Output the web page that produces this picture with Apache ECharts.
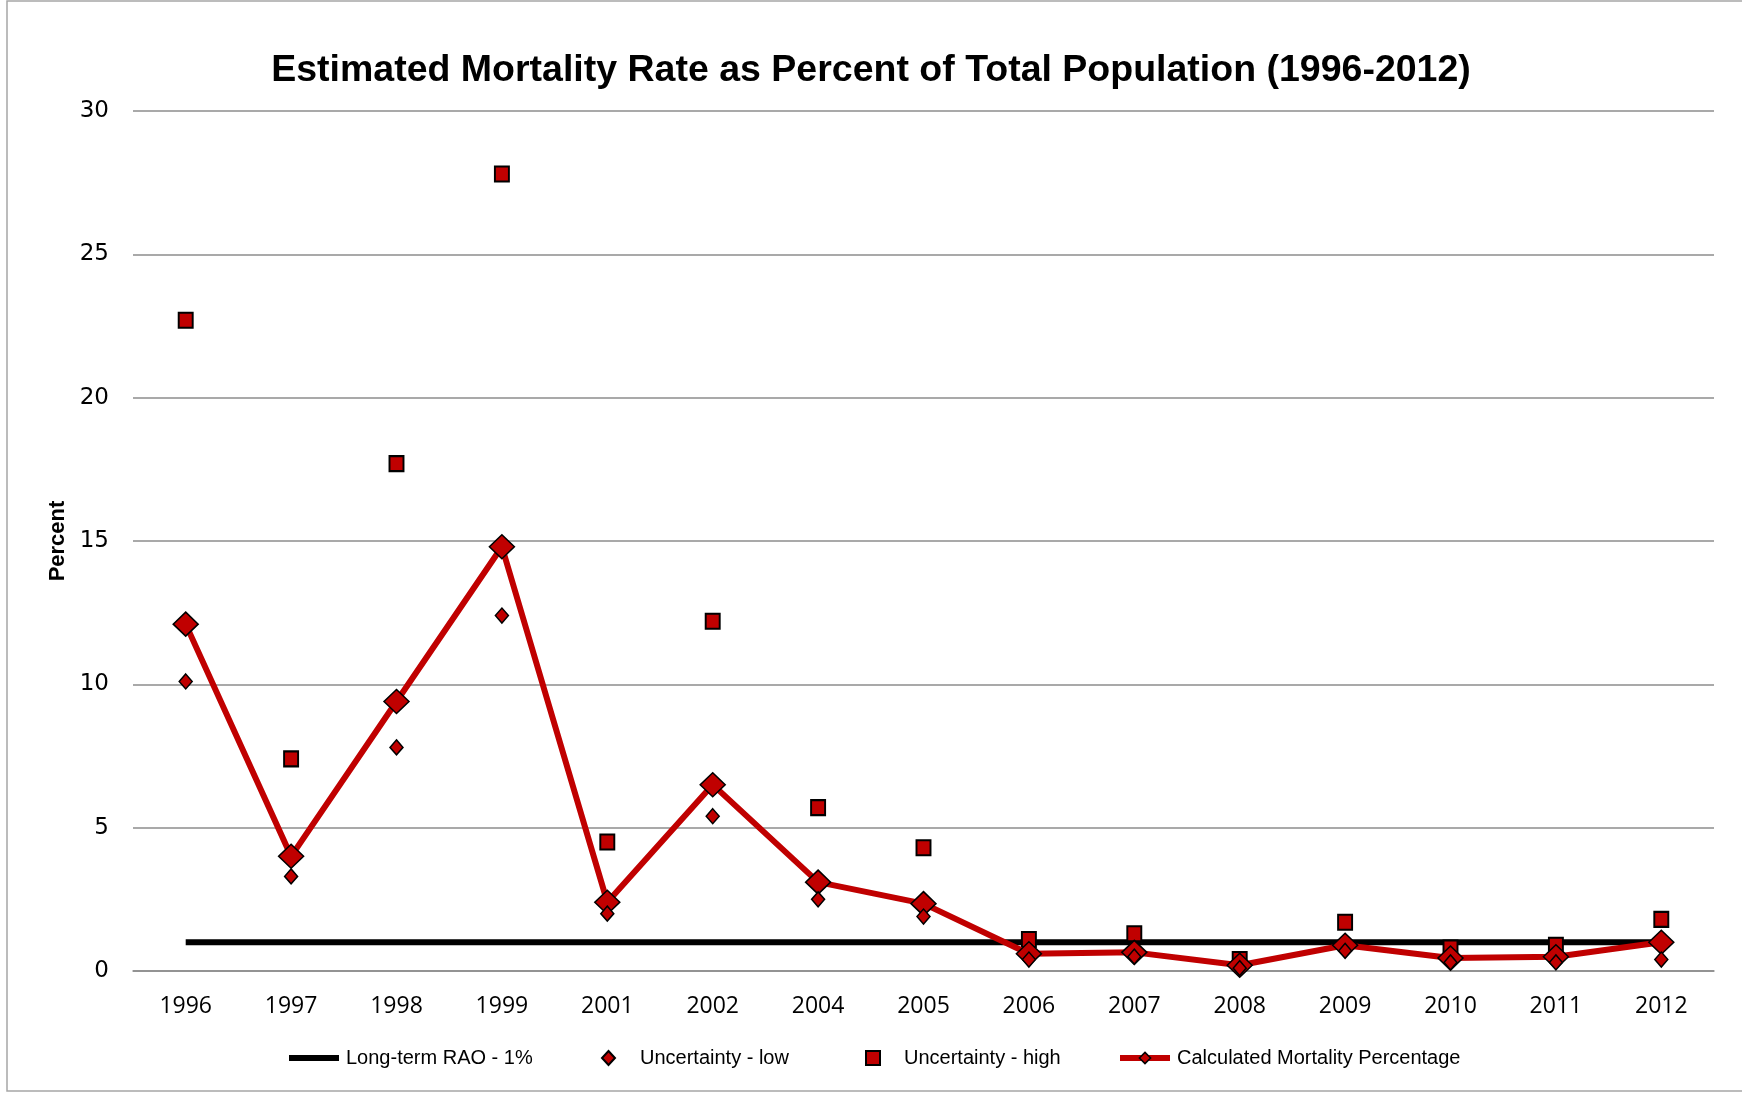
<!DOCTYPE html>
<html>
<head>
<meta charset="utf-8">
<title>Estimated Mortality Rate</title>
<script src="https://cdn.jsdelivr.net/npm/echarts@6/dist/echarts.min.js"></script>
<style>
  html, body { margin: 0; padding: 0; background: #fff; }
  #chart { width: 1742px; height: 1093px; }
</style>
</head>
<body>
<div id="chart"></div>
<script>
// 数据
const years = ['1996', '1997', '1998', '1999', '2001', '2002', '2004', '2005',
  '2006', '2007', '2008', '2009', '2010', '2011', '2012']
const raoLine = [1, 1, 1, 1, 1, 1, 1, 1, 1, 1, 1, 1, 1, 1, 1]
const uncertaintyLow = [10.1, 3.3, 7.8, 12.4, 2.0, 5.4, 2.5, 1.9, 0.4, 0.5, 0.1, 0.7, 0.3, 0.3, 0.4]
const uncertaintyHigh = [22.7, 7.4, 17.7, 27.8, 4.5, 12.2, 5.7, 4.3, 1.1, 1.3, 0.4, 1.7, 0.8, 0.9, 1.8]
const calculated = [12.1, 4.0, 9.4, 14.8, 2.4, 6.5, 3.1, 2.35, 0.6, 0.65, 0.2, 0.9, 0.45, 0.5, 1.0]

const RED = '#C00000'
const GRID_GRAY = '#8c8c8c'
const SANS = '"Liberation Sans", sans-serif'

const chart = echarts.init(document.getElementById('chart'), null, { renderer: 'canvas' })

// 图例：每项单独放置
const legendBase = {
  top: 1048,
  padding: 0,
  itemWidth: 50,
  itemHeight: 14,
  textStyle: { fontFamily: SANS, fontSize: 20, color: '#000' }
}

chart.setOption({
  animation: false,
  graphic: [{
    type: 'rect',
    shape: { x: 7, y: 1, width: 1740, height: 1090 },
    style: { fill: 'none', stroke: '#a6a6a6', lineWidth: 1.5 },
    silent: true
  }],
  title: {
    text: 'Estimated Mortality Rate as Percent of Total Population (1996-2012)',
    left: 'center',
    top: 47,
    textStyle: { fontFamily: SANS, fontWeight: 'bold', fontSize: 37.5, color: '#000' }
  },
  legend: [
    Object.assign({}, legendBase, {
      left: 289, itemHeight: 6,
      textStyle: Object.assign({}, legendBase.textStyle, { padding: [0, 0, 0, 2] }),
      data: [{ name: 'Long-term RAO - 1%', icon: 'rect', itemStyle: { color: '#000' } }]
    }),
    Object.assign({}, legendBase, {
      left: 601, itemWidth: 13,
      textStyle: Object.assign({}, legendBase.textStyle, { padding: [0, 0, 0, 20] }),
      data: ['Uncertainty - low']
    }),
    Object.assign({}, legendBase, {
      left: 865, itemWidth: 14,
      textStyle: Object.assign({}, legendBase.textStyle, { padding: [0, 0, 0, 19] }),
      data: ['Uncertainty - high']
    }),
    Object.assign({}, legendBase, {
      left: 1117,
      textStyle: Object.assign({}, legendBase.textStyle, { padding: [0, 0, 0, 2] }),
      data: [{
        name: 'Calculated Mortality Percentage',
        lineStyle: { width: 6, color: RED },
        itemStyle: { color: RED, borderColor: '#000', borderWidth: 1.5 }
      }]
    })
  ],
  grid: { left: 133, right: 28, top: 111, bottom: 122 },
  xAxis: {
    type: 'category',
    data: years,
    boundaryGap: true,
    axisLine: { lineStyle: { color: GRID_GRAY, width: 1.5 } },
    axisTick: { show: false },
    axisLabel: { fontFamily: '"Open Sans", sans-serif', fontSize: 23, color: '#000', margin: 24 }
  },
  yAxis: {
    type: 'value',
    min: 0,
    max: 30,
    interval: 5,
    name: 'Percent',
    nameLocation: 'middle',
    nameGap: 63,
    nameTextStyle: { fontFamily: SANS, fontWeight: 'bold', fontSize: 22, color: '#000' },
    axisLine: { show: false },
    axisTick: { show: false },
    splitLine: { lineStyle: { color: GRID_GRAY, width: 1.5 } },
    axisLabel: { fontFamily: '"DejaVu Sans", sans-serif', fontSize: 23, color: '#000', margin: 24 }
  },
  series: [
    {
      name: 'Long-term RAO - 1%',
      type: 'line',
      data: raoLine,
      symbol: 'none',
      lineStyle: { color: '#000', width: 6 },
      itemStyle: { color: '#000' },
      z: 2
    },
    {
      name: 'Uncertainty - low',
      type: 'scatter',
      data: uncertaintyLow,
      symbol: 'diamond',
      symbolSize: [13, 15],
      itemStyle: { color: RED, opacity: 1, borderColor: '#000', borderWidth: 1.5 },
      z: 5
    },
    {
      name: 'Uncertainty - high',
      type: 'scatter',
      data: uncertaintyHigh,
      symbol: 'rect',
      symbolSize: [14, 15],
      itemStyle: { color: RED, opacity: 1, borderColor: '#000', borderWidth: 2 },
      z: 3
    },
    {
      name: 'Calculated Mortality Percentage',
      type: 'line',
      data: calculated,
      symbol: 'diamond',
      symbolSize: [25, 24],
      lineStyle: { color: RED, width: 6 },
      itemStyle: { color: RED, borderColor: '#000', borderWidth: 1.5 },
      z: 4
    }
  ]
})
</script>
</body>
</html>
